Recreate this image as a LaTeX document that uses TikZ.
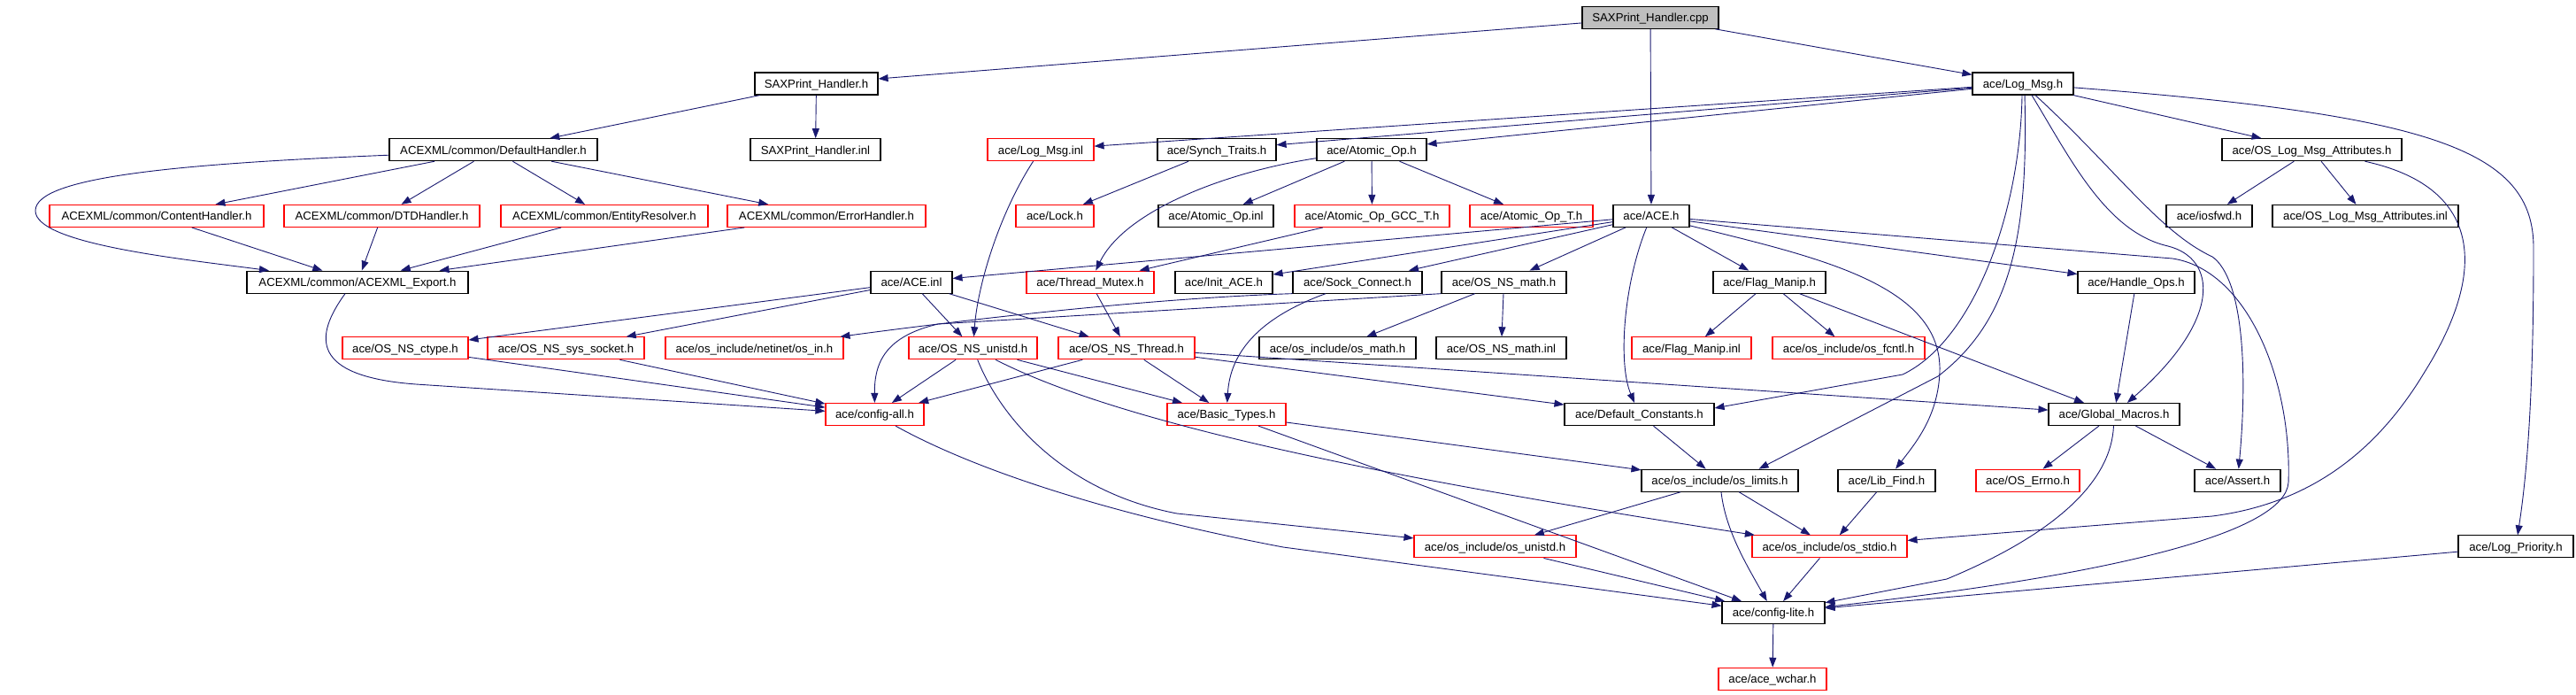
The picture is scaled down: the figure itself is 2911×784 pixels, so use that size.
\documentclass[tikz,border=0pt]{standalone}
\usepackage{fontspec}
\setmainfont{Liberation Sans}
\usetikzlibrary{arrows.meta}
\definecolor{edgeblue}{HTML}{191970}
\definecolor{nodered}{HTML}{FF0000}
\definecolor{cppgray}{HTML}{BFBFBF}
\newcommand\nodefont{\fontsize{13.2}{15}\selectfont}
\tikzset{
  bx/.style={draw=black, line width=1.1pt, fill=white, inner sep=0pt,
    minimum height=25pt, text height=9.6pt, text depth=0pt, font=\nodefont},
  rbx/.style={bx, draw=nodered},
  edge/.style={draw=edgeblue, line width=0.9pt, -{Triangle[length=11pt,width=8pt]}},
}
\begin{document}
\begin{tikzpicture}[x=1pt,y=-1pt]
\fill[white] (0,0) rectangle (2911,784);
\useasboundingbox (0,0) rectangle (2911,784);
% row 0
\node[bx, fill=cppgray, minimum width=154pt] (cpp) at (1865,19.8) {SAXPrint\_Handler.cpp};
% row 1
\node[bx, minimum width=139pt] (sh) at (922.5,94.5) {SAXPrint\_Handler.h};
\node[bx, minimum width=114pt] (logmsg) at (2286,94.5) {ace/Log\_Msg.h};
% row 2
\node[bx, minimum width=235pt] (dh) at (557.5,169.2) {ACEXML/common/DefaultHandler.h};
\node[bx, minimum width=147pt] (shinl) at (921.5,169.2) {SAXPrint\_Handler.inl};
\node[rbx, minimum width=120pt] (logmsginl) at (1176,169.2) {ace/Log\_Msg.inl};
\node[bx, minimum width=134pt] (synch) at (1375,169.2) {ace/Synch\_Traits.h};
\node[bx, minimum width=124pt] (atomic) at (1550,169.2) {ace/Atomic\_Op.h};
\node[bx, minimum width=203pt] (oslma) at (2612.5,169.2) {ace/OS\_Log\_Msg\_Attributes.h};
% row 3
\node[rbx, minimum width=242pt] (ch) at (177,243.9) {ACEXML/common/ContentHandler.h};
\node[rbx, minimum width=221pt] (dtd) at (431.5,243.9) {ACEXML/common/DTDHandler.h};
\node[rbx, minimum width=234pt] (er) at (683,243.9) {ACEXML/common/EntityResolver.h};
\node[rbx, minimum width=224pt] (eh) at (934,243.9) {ACEXML/common/ErrorHandler.h};
\node[rbx, minimum width=88pt] (lock) at (1192,243.9) {ace/Lock.h};
\node[bx, minimum width=130pt] (atominl) at (1374,243.9) {ace/Atomic\_Op.inl};
\node[rbx, minimum width=175pt] (gcc) at (1550.5,243.9) {ace/Atomic\_Op\_GCC\_T.h};
\node[rbx, minimum width=139pt] (atomt) at (1730.5,243.9) {ace/Atomic\_Op\_T.h};
\node[bx, minimum width=86pt] (ace) at (1866,243.9) {ace/ACE.h};
\node[bx, minimum width=97pt] (iosfwd) at (2496.5,243.9) {ace/iosfwd.h};
\node[bx, minimum width=210pt] (oslmainl) at (2673,243.9) {ace/OS\_Log\_Msg\_Attributes.inl};
% row 4
\node[bx, minimum width=250pt] (exp) at (404,318.6) {ACEXML/common/ACEXML\_Export.h};
\node[bx, minimum width=92pt] (aceinl) at (1030,318.6) {ace/ACE.inl};
\node[rbx, minimum width=144pt] (tmutex) at (1232,318.6) {ace/Thread\_Mutex.h};
\node[bx, minimum width=110pt] (initace) at (1383,318.6) {ace/Init\_ACE.h};
\node[bx, minimum width=146pt] (sock) at (1534,318.6) {ace/Sock\_Connect.h};
\node[bx, minimum width=141pt] (nsmath) at (1699.5,318.6) {ace/OS\_NS\_math.h};
\node[bx, minimum width=127pt] (flag) at (1999.5,318.6) {ace/Flag\_Manip.h};
\node[bx, minimum width=132pt] (handle) at (2414,318.6) {ace/Handle\_Ops.h};
% row 5
\node[rbx, minimum width=142pt] (ctype) at (458,393.3) {ace/OS\_NS\_ctype.h};
\node[rbx, minimum width=177pt] (syssock) at (639.5,393.3) {ace/OS\_NS\_sys\_socket.h};
\node[rbx, minimum width=201pt] (osin) at (852.5,393.3) {ace/os\_include/netinet/os\_in.h};
\node[rbx, minimum width=145pt] (nsunistd) at (1099.5,393.3) {ace/OS\_NS\_unistd.h};
\node[rbx, minimum width=154pt] (nsthread) at (1273,393.3) {ace/OS\_NS\_Thread.h};
\node[bx, minimum width=177pt] (osmath) at (1511.5,393.3) {ace/os\_include/os\_math.h};
\node[bx, minimum width=147pt] (nsmathinl) at (1696.5,393.3) {ace/OS\_NS\_math.inl};
\node[rbx, minimum width=135pt] (flaginl) at (1911.5,393.3) {ace/Flag\_Manip.inl};
\node[rbx, minimum width=172pt] (fcntl) at (2089,393.3) {ace/os\_include/os\_fcntl.h};
% row 6
\node[rbx, minimum width=111pt] (cfgall) at (988.5,468) {ace/config-all.h};
\node[rbx, minimum width=134pt] (basic) at (1386,468) {ace/Basic\_Types.h};
\node[bx, minimum width=169pt] (defc) at (1852.5,468) {ace/Default\_Constants.h};
\node[bx, minimum width=148pt] (gm) at (2389,468) {ace/Global\_Macros.h};
% row 7
\node[bx, minimum width=177pt] (oslimits) at (1943.5,542.7) {ace/os\_include/os\_limits.h};
\node[bx, minimum width=110pt] (libfind) at (2132,542.7) {ace/Lib\_Find.h};
\node[rbx, minimum width=117pt] (errno) at (2291.5,542.7) {ace/OS\_Errno.h};
\node[bx, minimum width=97pt] (assert) at (2528.5,542.7) {ace/Assert.h};
% row 8
\node[rbx, minimum width=183pt] (osunistd) at (1689.5,617.4) {ace/os\_include/os\_unistd.h};
\node[rbx, minimum width=175pt] (osstdio) at (2067.5,617.4) {ace/os\_include/os\_stdio.h};
\node[bx, minimum width=130pt] (logprio) at (2843,617.4) {ace/Log\_Priority.h};
% row 9
\node[bx, minimum width=116pt] (cfglite) at (2004,692.1) {ace/config-lite.h};
% row 10
\node[rbx, minimum width=122pt] (wchar) at (2003,766.8) {ace/ace\_wchar.h};

% ---------- edges ----------
\draw[edge] (cpp) -- (sh);
\draw[edge] (cpp) -- (ace);
\draw[edge] (cpp) -- (logmsg);
\draw[edge] (sh) -- (dh);
\draw[edge] (sh) -- (shinl);
\draw[edge] (dh) -- (ch);
\draw[edge] (dh) -- (dtd);
\draw[edge] (dh) -- (er);
\draw[edge] (dh) -- (eh);
\draw[edge] ([yshift=-6pt]dh.west) .. controls (200,185) and (40,200) .. (40,238) .. controls (40,275) and (200,292) .. (exp);
\draw[edge] (ch) -- (exp);
\draw[edge] (dtd) -- (exp);
\draw[edge] (er) -- (exp);
\draw[edge] (eh) -- (exp);
\draw[edge] ([xshift=-14pt]exp.south) .. controls (355,380) and (350,425) .. (470,434) -- (cfgall);
% Log_Msg.h
\draw[edge] (logmsg) -- (logmsginl);
\draw[edge] (logmsg) -- (synch);
\draw[edge] (logmsg) -- (atomic);
\draw[edge] (logmsg) -- (oslma);
\draw[edge] (logmsg) .. controls (2750,130) and (2863,170) .. (2863,280) .. controls (2863,420) and (2858,520) .. (logprio);
\draw[edge] ([xshift=-1pt]logmsg.south) .. controls (2283,240) and (2230,385) .. (2150,423) -- ([yshift=-6pt]defc.north east);
\draw[edge] ([xshift=2pt]logmsg.south) .. controls (2292,260) and (2275,360) .. (2190,425) -- ([xshift=-45pt]oslimits.north east);
\draw[edge] ([xshift=10pt]logmsg.south) .. controls (2340,180) and (2380,262) .. (2450,278) .. controls (2505,292) and (2512,360) .. (gm);
\draw[edge] ([xshift=14pt]logmsg.south) .. controls (2390,190) and (2440,262) .. (2500,290) .. controls (2535,315) and (2540,420) .. (assert);
\draw[edge] (logmsginl) .. controls (1130,240) and (1105,320) .. (nsunistd);
\draw[edge] (synch) -- (lock);
\draw[edge] (atomic) -- (atominl);
\draw[edge] (atomic) -- (gcc);
\draw[edge] (atomic) -- (atomt);
\draw[edge] (atomic) .. controls (1380,195) and (1270,240) .. (tmutex);
\draw[edge] (gcc) -- (tmutex);
\draw[edge] (oslma) -- (iosfwd);
\draw[edge] (oslma) -- (oslmainl);
\draw[edge] (oslma) .. controls (2800,210) and (2815,300) .. (2740,420) .. controls (2680,520) and (2600,570) .. (2500,583) -- (osstdio);
% ACE.h
\draw[edge] (ace) -- (aceinl);
\draw[edge] (ace) -- (initace);
\draw[edge] (ace) -- (sock);
\draw[edge] (ace) -- (nsmath);
\draw[edge] (ace) -- (flag);
\draw[edge] (ace) .. controls (1835,320) and (1828,410) .. (defc);
\draw[edge] (ace) -- (handle);
\draw[edge] (ace) .. controls (2050,290) and (2195,320) .. (2192,420) .. controls (2190,470) and (2165,500) .. (libfind);
\draw[edge] (ace) -- (2455,292) .. controls (2540,305) and (2590,430) .. (2586,545) .. controls (2582,600) and (2400,648) .. (cfglite);
% ACE.inl and friends
\draw[edge] (aceinl) -- (ctype);
\draw[edge] (aceinl) -- (syssock);
\draw[edge] (aceinl) -- (nsunistd);
\draw[edge] (aceinl) -- (nsthread);
\draw[edge] (tmutex) -- (nsthread);
\draw[edge] (sock.south west) .. controls (1300,337) and (1100,360) .. (osin);
\draw[edge] (sock) .. controls (1420,360) and (1390,400) .. (basic);
\draw[edge] (nsmath.south west) -- (1060,366) .. controls (1000,380) and (988,410) .. (cfgall);
\draw[edge] (nsmath) -- (osmath);
\draw[edge] (nsmath) -- (nsmathinl);
\draw[edge] (flag) -- (flaginl);
\draw[edge] (flag) -- (fcntl);
\draw[edge] (flag) -- (gm);
\draw[edge] (handle) -- (gm);
\draw[edge] (ctype) -- (cfgall);
\draw[edge] (syssock) -- (cfgall);
\draw[edge] (nsunistd) -- (cfgall);
\draw[edge] (nsunistd) -- (basic);
\draw[edge] (nsunistd) .. controls (1130,470) and (1200,555) .. (1330,580) -- (osunistd);
\draw[edge] (nsunistd) .. controls (1250,470) and (1500,530) .. (osstdio);
\draw[edge] (nsthread) -- (cfgall);
\draw[edge] (nsthread) -- (basic);
\draw[edge] (nsthread) -- (defc);
\draw[edge] (nsthread) -- (gm);
\draw[edge] (cfgall) .. controls (1100,530) and (1250,580) .. (1450,618) -- (cfglite);
\draw[edge] (basic) -- (oslimits);
\draw[edge] (basic) -- (cfglite);
\draw[edge] (defc) -- (oslimits);
\draw[edge] (gm) -- (errno);
\draw[edge] (gm) -- (assert);
\draw[edge] (gm) .. controls (2386,540) and (2330,600) .. (2200,654) -- (cfglite);
\draw[edge] (oslimits) -- (osunistd);
\draw[edge] (oslimits) -- (osstdio);
\draw[edge] (oslimits) .. controls (1950,600) and (1975,640) .. (cfglite);
\draw[edge] (libfind) -- (osstdio);
\draw[edge] (osunistd) -- (cfglite);
\draw[edge] (osstdio) -- (cfglite);
\draw[edge] (logprio) -- (cfglite);
\draw[edge] (cfglite) -- (wchar);
\end{tikzpicture}
\end{document}
